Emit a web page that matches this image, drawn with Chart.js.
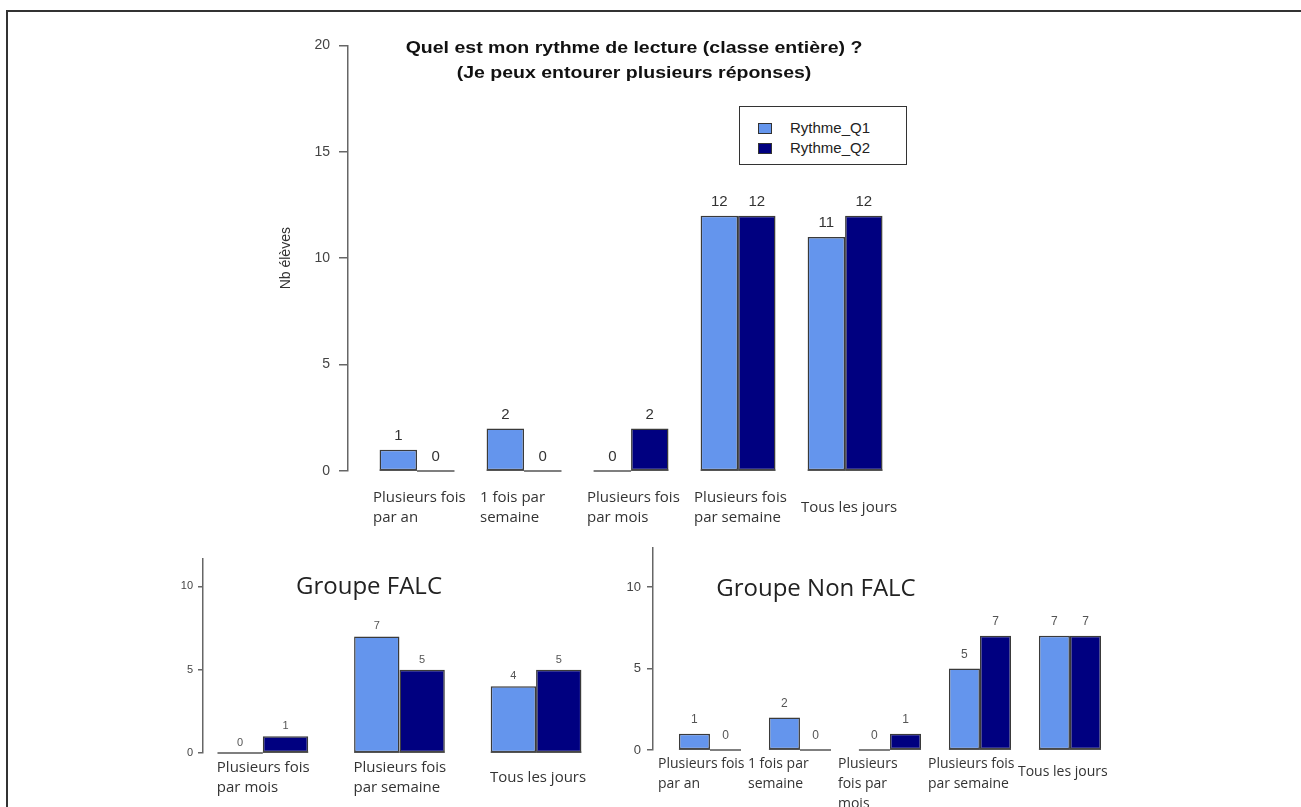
<!DOCTYPE html>
<html lang="fr">
<head>
<meta charset="utf-8">
<title>Rythme de lecture</title>
<script src="https://cdn.jsdelivr.net/npm/chart.js@4.4.1/dist/chart.umd.min.js"></script>
<style>
body { margin: 0; width: 1301px; height: 807px; background: #fff; overflow: hidden; position: relative; font-family: 'Liberation Sans', Arial, sans-serif; }
#cadre { position: absolute; left: 6px; top: 10px; width: 1400px; height: 900px; border-top: 2px solid #333; border-left: 2px solid #333; }
canvas { position: absolute; }
.titre { position: absolute; text-align: center; white-space: nowrap; }
#titreHaut { left: 384px; top: 35px; width: 500px; font: bold 16px/25px 'Liberation Sans', Arial, sans-serif; color: #111; transform: scaleX(1.22); transform-origin: 50% 50%; }
#titreFalc { left: 269px; top: 570px; width: 200px; font: 24px/30px 'Open Sans', sans-serif; color: #222; }
#titreNonFalc { left: 716px; top: 572px; width: 200px; font: 24px/30px 'Open Sans', sans-serif; color: #222; }
#legende { position: absolute; left: 739px; top: 106px; width: 166px; height: 57px; border: 1px solid #333; background: #fff; font: 15px 'Liberation Sans', Arial, sans-serif; color: #222; }
#legende .item { position: absolute; left: 18px; height: 20px; line-height: 20px; }
#legende .carre { position: absolute; left: 0; top: 5px; width: 12px; height: 9px; border: 1px solid #333; }
#legende .texte { position: absolute; left: 32px; top: 0; }
</style>
</head>
<body>
<div id="cadre"></div>
<canvas id="graphHaut" width="692" height="505" style="left:278px; top:28px"></canvas>
<canvas id="graphFalc" width="483" height="258" style="left:163px; top:547px"></canvas>
<canvas id="graphNonFalc" width="567" height="280" style="left:613px; top:534px"></canvas>
<div class="titre" id="titreHaut">Quel est mon rythme de lecture (classe entière) ?<br>(Je peux entourer plusieurs réponses)</div>
<div class="titre" id="titreFalc">Groupe FALC</div>
<div class="titre" id="titreNonFalc">Groupe Non FALC</div>
<div id="legende"></div>
<script>
// donnees
const series = ['Rythme_Q1', 'Rythme_Q2'];
const couleurs = ['#6495ED', '#000080'];

const categoriesClasse = [['Plusieurs fois', 'par an'], ['1 fois par', 'semaine'], ['Plusieurs fois', 'par mois'], ['Plusieurs fois', 'par semaine'], ['Tous les jours']];
const classeQ1 = [1, 2, 0, 12, 11];
const classeQ2 = [0, 0, 2, 12, 12];

const categoriesFalc = [['Plusieurs fois', 'par mois'], ['Plusieurs fois', 'par semaine'], ['Tous les jours']];
const falcQ1 = [0, 7, 4];
const falcQ2 = [1, 5, 5];

const categoriesNonFalc = [['Plusieurs fois', 'par an'], ['1 fois par', 'semaine'], ['Plusieurs', 'fois par', 'mois'], ['Plusieurs fois', 'par semaine'], ['Tous les jours']];
const nonFalcQ1 = [1, 2, 0, 5, 7];
const nonFalcQ2 = [0, 0, 1, 7, 7];

const ticksClasse = [0, 5, 10, 15, 20];
const ticksGroupes = [0, 5, 10];

// valeurs au-dessus des barres + trait de base (barres a 0)
const etiquettesPlugin = {
	id: 'etiquettes',
	afterDatasetsDraw(chart, args, opts) {
		const ctx = chart.ctx;
		ctx.save();
		chart.data.datasets.forEach((ds, i) => {
			chart.getDatasetMeta(i).data.forEach((bar, j) => {
				const p = bar.getProps(['x', 'y', 'base', 'width'], true);
				ctx.strokeStyle = '#555';
				ctx.lineWidth = 1.5;
				ctx.beginPath();
				ctx.moveTo(p.x - p.width / 2, p.base);
				ctx.lineTo(p.x + p.width / 2, p.base);
				ctx.stroke();
				ctx.fillStyle = opts.color;
				ctx.font = opts.font;
				ctx.textAlign = 'center';
				ctx.textBaseline = 'middle';
				ctx.fillText(String(ds.data[j].y), p.x, p.y - opts.offset);
			});
		});
		ctx.restore();
	}
};

function creerGraphique(id, categories, q1, q2, cfg)
{
	const ctx = document.getElementById(id).getContext('2d');
	return new Chart(ctx, {
		type: 'bar',
		data: {
			datasets: [q1, q2].map((valeurs, i) => ({
				label: series[i],
				data: valeurs.map((v, k) => ({ x: k, y: v })),
				backgroundColor: couleurs[i],
				borderColor: '#3a3a3a',
				borderWidth: 1.5,
				borderSkipped: false,
				barPercentage: 1,
				categoryPercentage: cfg.catPct
			}))
		},
		options: {
			responsive: false,
			devicePixelRatio: 1,
			animation: false,
			layout: { padding: { top: 10, right: cfg.padRight, bottom: 2, left: 0 } },
			plugins: {
				legend: { display: false },
				tooltip: { enabled: false },
				etiquettes: { font: cfg.valFont, color: cfg.valColor, offset: cfg.valOffset }
			},
			scales: {
				x: {
					type: 'linear',
					offset: false,
					min: cfg.xMin,
					max: cfg.xMax,
					afterBuildTicks: s => { s.ticks = categories.map((c, k) => ({ value: k })); },
					afterFit: s => { s.height = cfg.xHeight; },
					grid: { display: false, offset: false },
					border: { display: false },
					ticks: {
						autoSkip: false,
						maxRotation: 0,
						minRotation: 0,
						align: 'start',
						crossAlign: cfg.crossAlign,
						labelOffset: cfg.labelOffset,
						padding: cfg.xPad,
						color: '#333',
						// une seule ligne : un peu plus bas (libellé "Tous les jours")
						font: c => {
							const uneLigne = c.tick && categories[c.tick.value] && categories[c.tick.value].length === 1;
							return { family: "'Open Sans', sans-serif", size: cfg.xFont, lineHeight: (uneLigne && cfg.singleLh) ? cfg.singleLh : '20px' };
						},
						callback: v => categories[v]
					}
				},
				y: {
					min: 0,
					max: cfg.yMax,
					afterBuildTicks: s => { s.ticks = cfg.yTicks.map(v => ({ value: v })); },
					afterFit: s => { s.width = cfg.yWidth; },
					border: { display: true, color: '#666', width: 1.5 },
					grid: { display: true, drawOnChartArea: false, drawTicks: true, tickLength: cfg.tickLen, color: '#666', lineWidth: 1.5 },
					ticks: {
						padding: cfg.yPad,
						color: '#444',
						font: { family: "'Liberation Sans', Arial, sans-serif", size: cfg.yFont }
					},
					title: {
						display: !!cfg.yTitle,
						text: cfg.yTitle || '',
						color: '#333',
						padding: { top: 0, bottom: 0 },
						font: { family: "'Liberation Sans', Arial, sans-serif", size: 14 }
					}
				}
			}
		},
		plugins: [etiquettesPlugin]
	});
}

const graphHaut = creerGraphique('graphHaut', categoriesClasse, classeQ1, classeQ2, {
	catPct: 0.70, padRight: 50, xMin: -0.645, xMax: 4.70, xHeight: 60, crossAlign: 'center',
	labelOffset: -44, xPad: 19, xFont: 15, yMax: 20, yTicks: ticksClasse, yWidth: 70, tickLen: 9, yPad: 9,
	yFont: 14, yTitle: 'Nb élèves', valFont: "15px 'Liberation Sans', Arial, sans-serif", valColor: '#333', valOffset: 14
});

creerGraphique('graphFalc', categoriesFalc, falcQ1, falcQ2, {
	catPct: 0.664, padRight: 40, xMin: -0.438, xMax: 2.504, xHeight: 50, crossAlign: 'center',
	labelOffset: -46, xPad: 7, xFont: 15, yMax: 11.67, yTicks: ticksGroupes, yWidth: 40, tickLen: 5, yPad: 5,
	yFont: 11, valFont: "11px 'Liberation Sans', Arial, sans-serif", valColor: '#555', valOffset: 10
});

creerGraphique('graphNonFalc', categoriesNonFalc, nonFalcQ1, nonFalcQ2, {
	catPct: 0.69, padRight: 60, xMin: -0.633, xMax: 4.556, xHeight: 62, crossAlign: 'near',
	labelOffset: -52, xPad: -4, xFont: 14, singleLh: '36px', yMax: 12.4, yTicks: ticksGroupes, yWidth: 40, tickLen: 6, yPad: 6,
	yFont: 13, valFont: "12px 'Liberation Sans', Arial, sans-serif", valColor: '#555', valOffset: 14
});

// legende construite depuis les datasets
const legende = document.getElementById('legende');
graphHaut.data.datasets.forEach((ds, i) => {
	const item = document.createElement('div');
	item.className = 'item';
	item.style.top = (11 + i * 20) + 'px';
	item.innerHTML = '<span class="carre" style="background:' + ds.backgroundColor + '"></span><span class="texte">' + ds.label + '</span>';
	legende.appendChild(item);
});
</script>
</body>
</html>
